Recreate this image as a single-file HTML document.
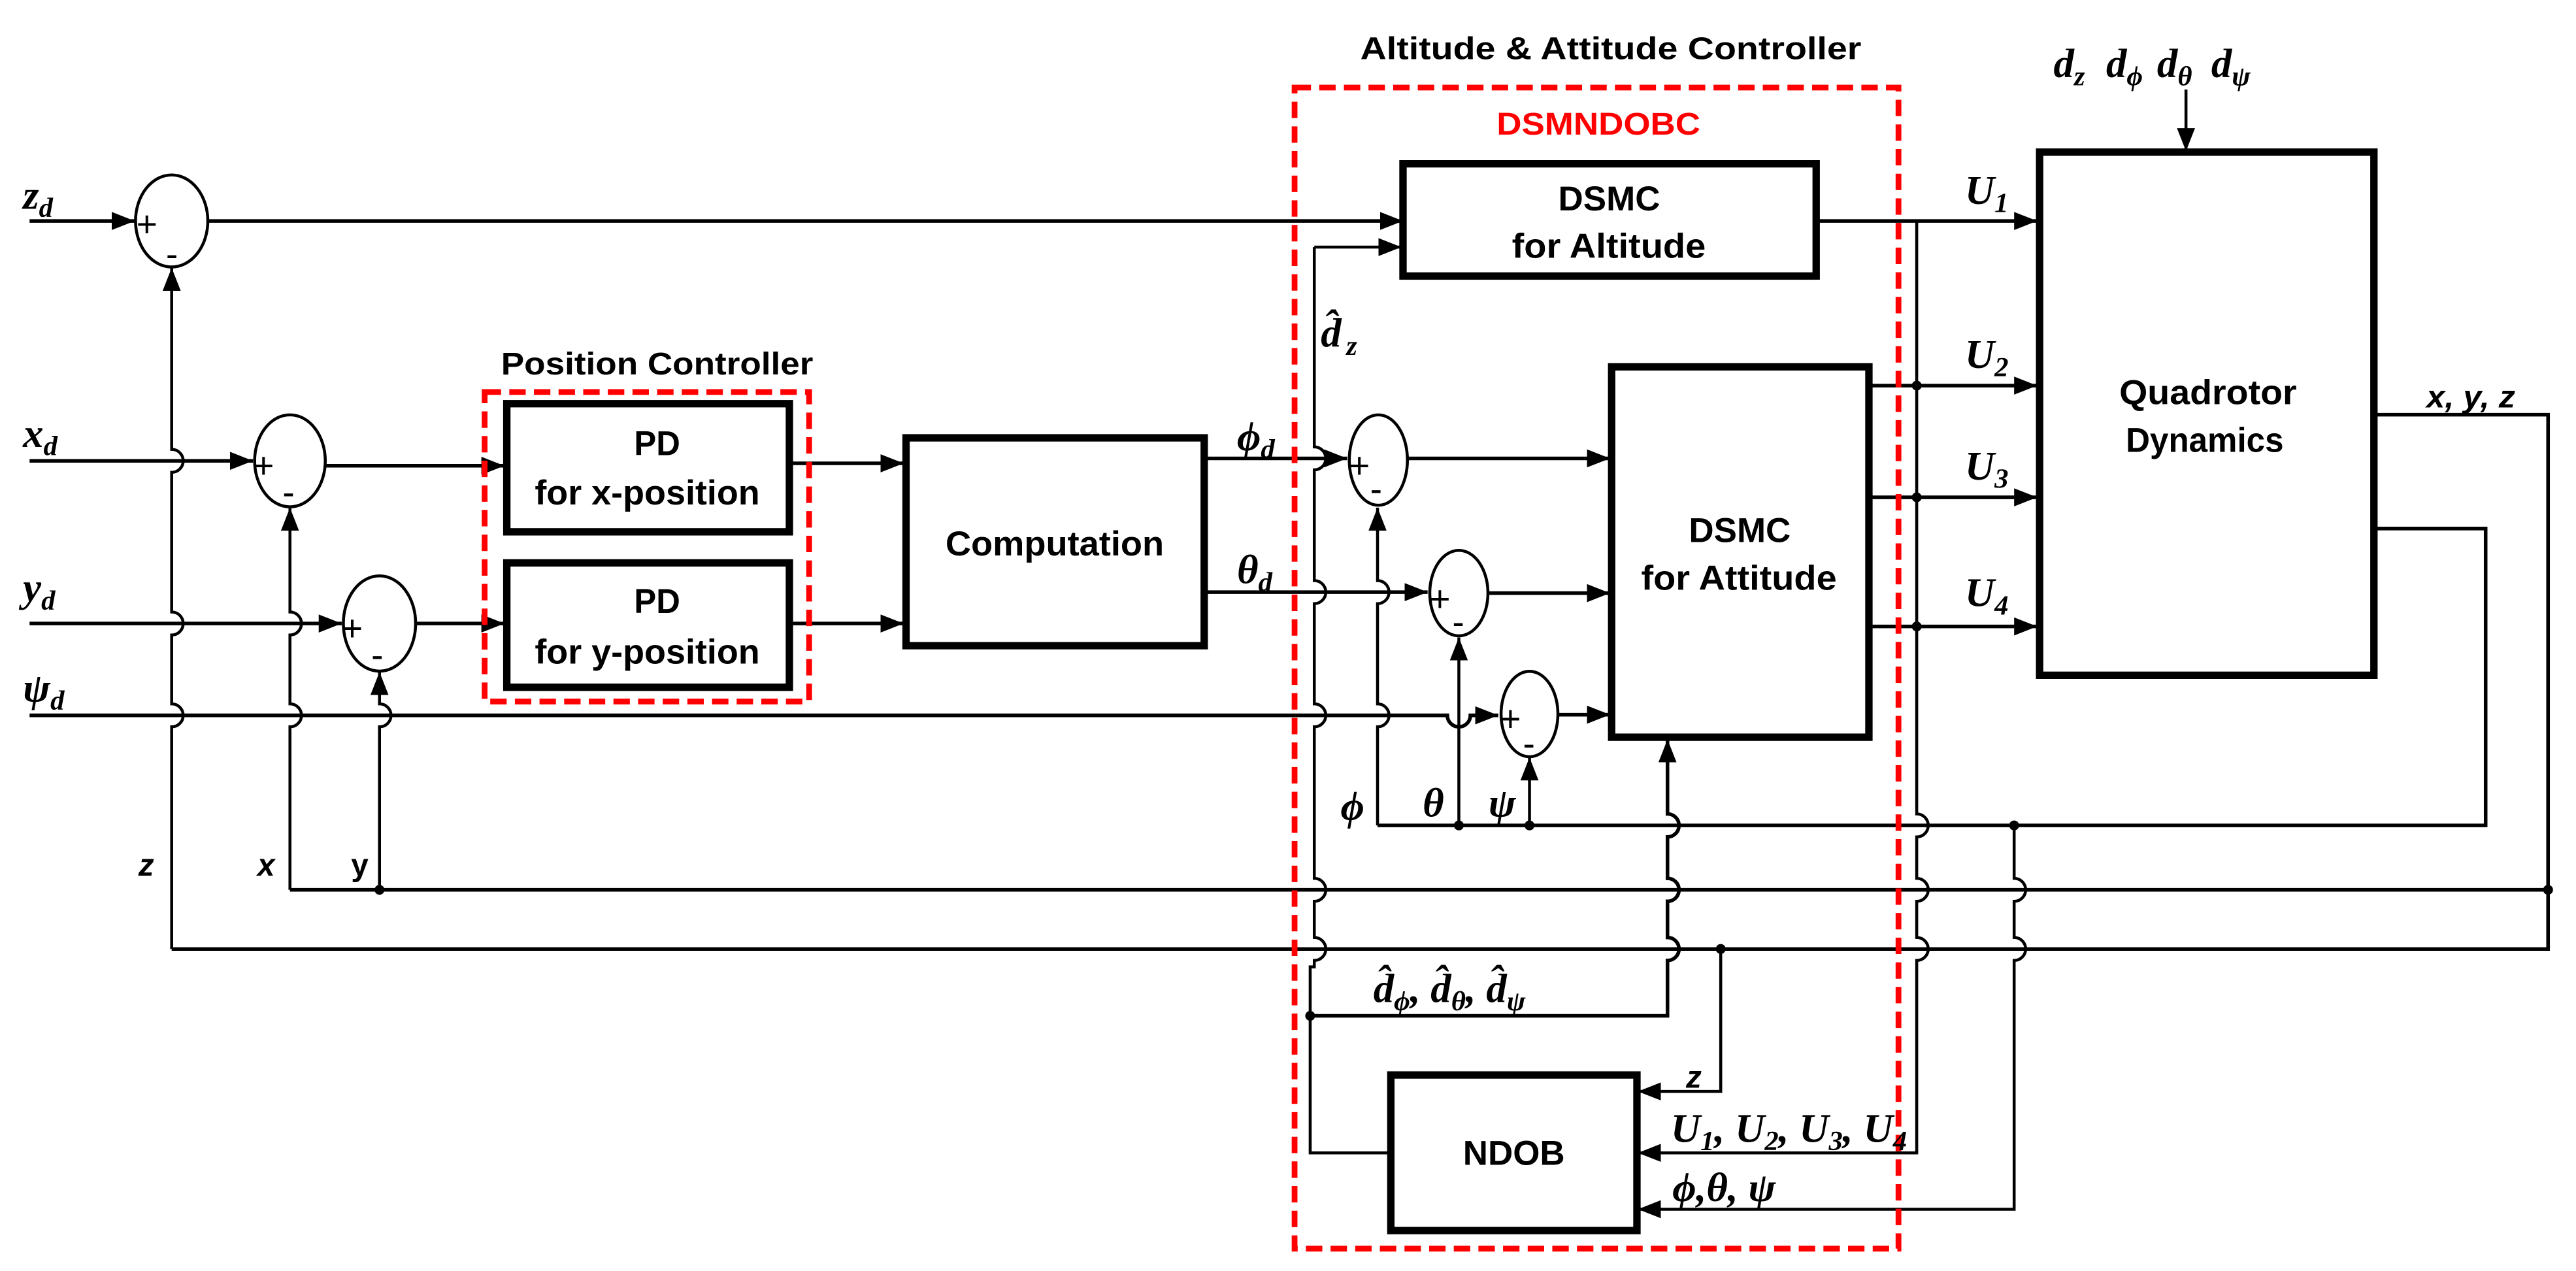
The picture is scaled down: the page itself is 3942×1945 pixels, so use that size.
<!DOCTYPE html>
<html><head><meta charset="utf-8"><style>
html,body{margin:0;padding:0;background:#fff;}
svg{display:block;}
.b{font-family:"Liberation Sans",sans-serif;font-weight:bold;font-size:19px;fill:#000;}
.m{font-family:"Liberation Serif",serif;font-style:italic;font-weight:bold;font-size:25px;fill:#000;}
.s{font-size:17px;}
</style></head><body>
<svg width="3942" height="1945" viewBox="0 0 1568 773.6" preserveAspectRatio="none" xmlns="http://www.w3.org/2000/svg">
<defs>
<marker id="a" viewBox="0 0 14 11" refX="14" refY="5.5" markerWidth="14" markerHeight="11" markerUnits="userSpaceOnUse" orient="auto">
<path d="M0,0 L14,5.5 L0,11 z" fill="#000"/></marker>
</defs>
<rect width="1568" height="773.6" fill="#fff"/>
<g fill="none" stroke="#000" stroke-width="1.8">
<path d="M18,134.5 H82" stroke-width="2.2" marker-end="url(#a)"/>
<path d="M126.5,134.5 H854" stroke-width="2.2" marker-end="url(#a)"/>
<path d="M18,280.5 H154" stroke-width="2.2" marker-end="url(#a)"/>
<path d="M198,283.5 H307" stroke-width="2.2" marker-end="url(#a)"/>
<path d="M18,379.5 H208" stroke-width="2.2" marker-end="url(#a)"/>
<path d="M253.5,379.5 H307" stroke-width="2.2" marker-end="url(#a)"/>
<path d="M18,435.4 H881 A7,7 0 0 0 895,435.4 H912" stroke-width="2.2" marker-end="url(#a)"/>
<path d="M480.5,282 H550" stroke-width="2.2" marker-end="url(#a)"/>
<path d="M480.5,379.5 H550" stroke-width="2.2" marker-end="url(#a)"/>
<path d="M733,279 H820" stroke-width="2.2" marker-end="url(#a)"/>
<path d="M857,279 H980" stroke-width="2.2" marker-end="url(#a)"/>
<path d="M733,360.4 H869" stroke-width="2.2" marker-end="url(#a)"/>
<path d="M906,361 H980" stroke-width="2.2" marker-end="url(#a)"/>
<path d="M948.3,435 H980" stroke-width="2.2" marker-end="url(#a)"/>
<path d="M104.5,577.6 V442.4 A7,7 0 0 0 104.5,428.4 V386.5 A7,7 0 0 0 104.5,372.5 V287.5 A7,7 0 0 0 104.5,273.5 V163" marker-end="url(#a)"/>
<path d="M176.5,541.6 V442.4 A7,7 0 0 0 176.5,428.4 V386.5 A7,7 0 0 0 176.5,372.5 V309" marker-end="url(#a)"/>
<path d="M231,541.6 V442.4 A7,7 0 0 0 231,428.4 V409" marker-end="url(#a)"/>
<path d="M104.5,577.6 H1551 V252.4 H1445" stroke-width="2.2"/>
<path d="M176.5,541.6 H1551" stroke-width="2.2"/>
<path d="M800,150.4 H853" marker-end="url(#a)"/>
<path d="M800,150.4 V272 A7,7 0 0 1 800,286 V353.4 A7,7 0 0 1 800,367.4 V428.4 A7,7 0 0 1 800,442.4 V534.6 A7,7 0 0 1 800,548.6 V570.6 A7,7 0 0 1 800,584.6 V588.5 H797.5 V701.7 H846.6"/>
<path d="M838.5,502.4 V442.4 A7,7 0 0 0 838.5,428.4 V367.4 A7,7 0 0 0 838.5,353.4 V309" marker-end="url(#a)"/>
<path d="M888,502.4 V388" marker-end="url(#a)"/>
<path d="M931,502.4 V461" marker-end="url(#a)"/>
<path d="M838.5,502.4 H1513 V321.7 H1445" stroke-width="2.2"/>
<path d="M797.5,618.3 H1015 V584.6 A7,7 0 0 0 1015,570.6 V548.6 A7,7 0 0 0 1015,534.6 V509.4 A7,7 0 0 0 1015,495.4 V450" stroke-width="2.2" marker-end="url(#a)"/>
<path d="M1105.5,134.5 H1240" stroke-width="2.2" marker-end="url(#a)"/>
<path d="M1137.6,234.7 H1240" stroke-width="2.2" marker-end="url(#a)"/>
<path d="M1137.6,302.7 H1240" stroke-width="2.2" marker-end="url(#a)"/>
<path d="M1137.6,381.3 H1240" stroke-width="2.2" marker-end="url(#a)"/>
<path d="M1166.7,135 V495.4 A7,7 0 0 1 1166.7,509.4 V534.6 A7,7 0 0 1 1166.7,548.6 V570.6 A7,7 0 0 1 1166.7,584.6 V701.7 H997" marker-end="url(#a)"/>
<path d="M1226,502.4 V534.6 A7,7 0 0 1 1226,548.6 V570.6 A7,7 0 0 1 1226,584.6 V736 H997" marker-end="url(#a)"/>
<path d="M1047.4,577.6 V664.3 H997" marker-end="url(#a)"/>
<path d="M1330.6,54.5 V92" marker-end="url(#a)"/>
<ellipse cx="104.5" cy="134.5" rx="22" ry="28"/>
<ellipse cx="176.5" cy="280.5" rx="21.5" ry="28"/>
<ellipse cx="231" cy="379.5" rx="22" ry="29"/>
<ellipse cx="839" cy="280" rx="17.7" ry="27.5"/>
<ellipse cx="888" cy="361" rx="17.7" ry="26"/>
<ellipse cx="931" cy="434.6" rx="17.3" ry="26"/>
</g>
<g fill="#000">
<circle cx="231" cy="541.6" r="3"/><circle cx="888" cy="502.4" r="3"/><circle cx="931" cy="502.4" r="3"/>
<circle cx="1226" cy="502.4" r="3"/><circle cx="1551" cy="541.6" r="3"/><circle cx="1047.4" cy="577.6" r="3"/>
<circle cx="797.5" cy="618.3" r="3"/><circle cx="1166.7" cy="234.7" r="3"/><circle cx="1166.7" cy="302.7" r="3"/><circle cx="1166.7" cy="381.3" r="3"/>
</g>
<g fill="none" stroke="#000" stroke-width="4.5">
<rect x="308.5" y="245.7" width="172" height="78"/>
<rect x="308.5" y="342.6" width="172" height="75.7"/>
<rect x="551.5" y="266.5" width="181.5" height="126.5"/>
<rect x="854" y="99.7" width="251.5" height="68.3"/>
<rect x="981" y="223.3" width="156.6" height="225.4"/>
<rect x="1241.5" y="92.6" width="203.5" height="318.4"/>
<rect x="846.6" y="654.3" width="149.8" height="94.7"/>
</g>
<g fill="none" stroke="#f00" stroke-width="3.5" stroke-dasharray="10,5">
<rect x="295" y="238.6" width="197.5" height="188.4"/>
<rect x="788" y="53.3" width="367.6" height="706.7"/>
</g>
<g class="b" style="font-weight:normal;font-size:22px">
<text x="83" y="144">+</text><text x="101" y="162">-</text>
<text x="154" y="291">+</text><text x="172" y="307">-</text>
<text x="208" y="390">+</text><text x="226" y="406">-</text>
<text x="821" y="291">+</text><text x="834" y="305">-</text>
<text x="870" y="372">+</text><text x="884" y="386">-</text>
<text x="913" y="445">+</text><text x="927" y="460">-</text>
</g>
<g class="b" text-anchor="middle">
<text x="400" y="228" textLength="190" lengthAdjust="spacingAndGlyphs">Position Controller</text>
<text x="980.5" y="36" textLength="305" lengthAdjust="spacingAndGlyphs">Altitude &amp; Attitude Controller</text>
<text x="973" y="82" textLength="124" lengthAdjust="spacingAndGlyphs" style="fill:#f00">DSMNDOBC</text>
<text x="400" y="277" textLength="28" lengthAdjust="spacingAndGlyphs" style="font-size:21px">PD</text>
<text x="394" y="307" textLength="137" lengthAdjust="spacingAndGlyphs" style="font-size:21px">for x-position</text>
<text x="400" y="373" textLength="28" lengthAdjust="spacingAndGlyphs" style="font-size:21px">PD</text>
<text x="394" y="404" textLength="137" lengthAdjust="spacingAndGlyphs" style="font-size:21px">for y-position</text>
<text x="642" y="338" textLength="133" lengthAdjust="spacingAndGlyphs" style="font-size:21px">Computation</text>
<text x="979.5" y="128" textLength="62" lengthAdjust="spacingAndGlyphs" style="font-size:21px">DSMC</text>
<text x="979.3" y="157" textLength="118" lengthAdjust="spacingAndGlyphs" style="font-size:21px">for Altitude</text>
<text x="1059" y="330" textLength="62" lengthAdjust="spacingAndGlyphs" style="font-size:21px">DSMC</text>
<text x="1058.5" y="359" textLength="119" lengthAdjust="spacingAndGlyphs" style="font-size:21px">for Attitude</text>
<text x="1344" y="246" textLength="108" lengthAdjust="spacingAndGlyphs" style="font-size:21px">Quadrotor</text>
<text x="1342" y="275" textLength="96" lengthAdjust="spacingAndGlyphs" style="font-size:21px">Dynamics</text>
<text x="921.5" y="709" textLength="62" lengthAdjust="spacingAndGlyphs" style="font-size:21px">NDOB</text>
<text x="1504" y="248" textLength="54" lengthAdjust="spacingAndGlyphs" style="font-style:italic">x, y, z</text>
<text x="89" y="533" style="font-style:italic">z</text>
<text x="162" y="533" style="font-style:italic">x</text>
<text x="219" y="533">y</text>
<text x="1031" y="662" style="font-style:italic">z</text>
</g>
<g class="m">
<text x="14" y="127">z<tspan class="s" dy="5">d</tspan></text>
<text x="14" y="272">x<tspan class="s" dy="5">d</tspan></text>
<text x="14" y="366">y<tspan class="s" dy="5">d</tspan></text>
<text x="14" y="427">ψ<tspan class="s" dy="5">d</tspan></text>
<text x="753" y="274">ϕ<tspan class="s" dy="5">d</tspan></text>
<text x="753" y="355">θ<tspan class="s" dy="5">d</tspan></text>
<text x="804" y="211">d̂<tspan class="s" dx="3" dy="5">z</tspan></text>
<text x="1196" y="124">U<tspan class="s" dy="5">1</tspan></text>
<text x="1196" y="224">U<tspan class="s" dy="5">2</tspan></text>
<text x="1196" y="292">U<tspan class="s" dy="5">3</tspan></text>
<text x="1196" y="369">U<tspan class="s" dy="5">4</tspan></text>
<text x="1250" y="47">d<tspan class="s" dy="5">z</tspan></text>
<text x="1282" y="47">d<tspan class="s" dy="5">ϕ</tspan></text>
<text x="1313" y="47">d<tspan class="s" dy="5">θ</tspan></text>
<text x="1346" y="47">d<tspan class="s" dy="5">ψ</tspan></text>
<text x="816" y="499">ϕ</text>
<text x="866" y="497">θ</text>
<text x="906" y="497">ψ</text>
<text x="836" y="610">d̂<tspan class="s" dy="5">ϕ</tspan><tspan dy="-5">, d̂</tspan><tspan class="s" dy="5">θ</tspan><tspan dy="-5">, d̂</tspan><tspan class="s" dy="5">ψ</tspan></text>
<text x="1017" y="695">U<tspan class="s" dy="5">1</tspan><tspan dy="-5">, U</tspan><tspan class="s" dy="5">2</tspan><tspan dy="-5">, U</tspan><tspan class="s" dy="5">3</tspan><tspan dy="-5">, U</tspan><tspan class="s" dy="5">4</tspan></text>
<text x="1018" y="731">ϕ,θ, ψ</text>
</g>
</svg>
</body></html>
